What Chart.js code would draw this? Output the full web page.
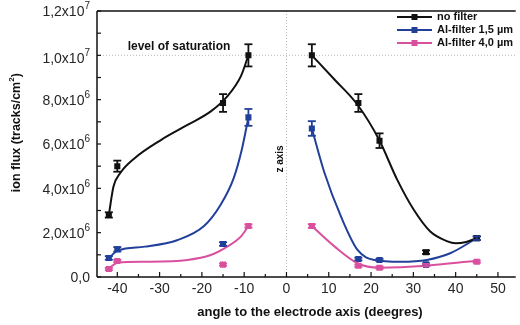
<!DOCTYPE html>
<html>
<head>
<meta charset="utf-8">
<script src="https://cdn.jsdelivr.net/npm/chart.js@4/dist/chart.umd.min.js"></script>
<style>
  html, body { margin: 0; padding: 0; background: #fff; }
</style>
</head>
<body>
<canvas id="chart" width="520" height="325"></canvas>
<script>
// measured points, ion flux in units of 10^6 tracks/cm2
const angles = [-42, -40, -15, -9, 6, 17, 22, 33, 45];
const noFilter = [2.8, 5.0, 7.85, 10.0, 10.0, 7.85, 6.15, 1.12, 1.75];
const noFilterErr = [0.12, 0.25, 0.4, 0.5, 0.5, 0.4, 0.33, 0.08, 0.08];
const al15 = [0.86, 1.25, 1.49, 7.2, 6.7, 0.81, 0.77, 0.57, 1.75];
const al15Err = [0.08, 0.1, 0.08, 0.38, 0.33, 0.06, 0.05, 0.05, 0.08];
const al40 = [0.36, 0.72, 0.56, 2.3, 2.3, 0.51, 0.42, 0.54, 0.69];
const al40Err = [0.05, 0.05, 0.05, 0.07, 0.08, 0.05, 0.05, 0.05, 0.05];

// fitted curves, left and right of the z axis
const fitNoFilterL = [[-42, 2.8], [-40.9, 4.08], [-39.3, 4.69], [-35.9, 5.36], [-29.6, 6.19], [-23.3, 6.87], [-17.9, 7.47], [-14, 8.15], [-10.8, 9.05], [-9, 10.0]];
const fitNoFilterR = [[6, 10.0], [11.4, 8.9], [16.8, 7.77], [21.9, 6.19], [26.2, 4.38], [30.1, 3.03], [34, 2.05], [37.9, 1.62], [40, 1.52], [42.5, 1.58], [45, 1.75]];
const fitAl15L = [[-42, 0.86], [-39.8, 1.2], [-33.5, 1.37], [-25.7, 1.67], [-19.5, 2.3], [-15.6, 3.25], [-12.5, 4.45], [-10.5, 5.8], [-9, 7.2]];
const fitAl15R = [[6, 6.7], [9, 4.69], [12.9, 2.72], [16.8, 1.22], [20.8, 0.77], [27, 0.69], [33.2, 0.77], [38.7, 1.07], [45, 1.75]];
const fitAl40L = [[-42, 0.39], [-39.8, 0.65], [-33.5, 0.69], [-23.4, 0.77], [-17.9, 0.99], [-14, 1.37], [-10.8, 1.82], [-9, 2.3]];
const fitAl40R = [[6, 2.3], [11.4, 1.37], [16.8, 0.62], [21.9, 0.42], [33.2, 0.51], [42.6, 0.69], [45, 0.72]];

// axis ticks
const xTicks = [-40, -35, -30, -25, -20, -15, -10, -5, 0, 5, 10, 15, 20, 25, 30, 35, 40, 45, 50];
const xLabels = [-40, -30, -20, -10, 0, 10, 20, 30, 40, 50];

const saturation = 10.0;
const seriesNames = ['no filter', 'Al-filter 1,5 \u00b5m', 'Al-filter 4,0 \u00b5m'];
const colors = ['#111111', '#22409a', '#d9509e'];

const toXY = arr => arr.map(([x, y]) => ({ x, y }));
const pts = vals => angles.map((a, i) => ({ x: a, y: vals[i] }));

function curve(data, color) {
  return {
    data: toXY(data), showLine: true, pointRadius: 0, borderColor: color,
    borderWidth: 2, cubicInterpolationMode: 'monotone', fill: false
  };
}
function marks(vals, color) {
  return {
    data: pts(vals), showLine: false, pointStyle: 'rect', pointRadius: 4.3,
    backgroundColor: color, borderColor: color, borderWidth: 0
  };
}

const errSets = [
  [noFilter, noFilterErr, colors[0]],
  [al15, al15Err, colors[1]],
  [al40, al40Err, colors[2]]
];

function yLabel(v) {
  if (v === 0) return ['0,0', ''];
  if (v >= 10) return [(v / 10).toFixed(1).replace('.', ',') + 'x10', '7'];
  return [v.toFixed(1).replace('.', ',') + 'x10', '6'];
}

function line(ctx, x1, y1, x2, y2) {
  ctx.beginPath(); ctx.moveTo(x1, y1); ctx.lineTo(x2, y2); ctx.stroke();
}

const decor = {
  id: 'decor',
  beforeDatasetsDraw(chart) {
    const { ctx, chartArea: a, scales: { x, y } } = chart;
    ctx.save();
    ctx.strokeStyle = '#b8b8b8';
    ctx.lineWidth = 1;
    ctx.setLineDash([1, 2]);
    const ys = y.getPixelForValue(saturation);
    line(ctx, a.left, ys, a.right, ys);
    const x0 = x.getPixelForValue(0);
    line(ctx, x0, a.top, x0, a.bottom);
    ctx.restore();
  },
  afterDatasetsDraw(chart) {
    const { ctx, chartArea: a, scales: { x, y } } = chart;
    ctx.save();

    // error bars
    ctx.lineWidth = 1.8;
    errSets.forEach(([vals, errs, c]) => {
      ctx.strokeStyle = c;
      angles.forEach((ang, i) => {
        const px = x.getPixelForValue(ang);
        const top = y.getPixelForValue(vals[i] + errs[i]);
        const bot = y.getPixelForValue(vals[i] - errs[i]);
        line(ctx, px, top, px, bot);
        line(ctx, px - 4, top, px + 4, top);
        line(ctx, px - 4, bot, px + 4, bot);
      });
    });

    // frame: left, bottom, top
    ctx.strokeStyle = '#111';
    ctx.lineWidth = 1.5;
    line(ctx, a.left, a.top, a.left, a.bottom);
    line(ctx, a.left, a.bottom, a.right, a.bottom);
    line(ctx, a.left, a.top, a.right, a.top);

    // inward ticks
    ctx.lineWidth = 1.2;
    y.ticks.forEach(t => {
      const py = y.getPixelForValue(t.value);
      line(ctx, a.left, py, a.left + 4, py);
    });
    xTicks.forEach(v => {
      const px = x.getPixelForValue(v);
      const len = xLabels.includes(v) ? 5 : 3;
      line(ctx, px, a.bottom, px, a.bottom - len);
    });

    // y tick labels with exponent
    ctx.fillStyle = '#262626';
    ctx.textBaseline = 'middle';
    y.ticks.forEach(t => {
      if (t.value % 2 !== 0) return;
      const [base, exp] = yLabel(t.value);
      const py = y.getPixelForValue(t.value) + (t.value === 10 ? 4 : 1.5);
      ctx.font = '10px "Liberation Sans", Arial, sans-serif';
      const ew = exp ? ctx.measureText(exp).width : 0;
      const right = 90;
      if (exp) {
        ctx.textAlign = 'right';
        ctx.fillText(exp, right, py - 6);
      }
      ctx.font = '14px "Liberation Sans", Arial, sans-serif';
      ctx.textAlign = 'right';
      ctx.fillText(base, right - ew, py);
    });

    // x tick labels
    ctx.font = '14px "Liberation Sans", Arial, sans-serif';
    ctx.textAlign = 'center';
    xLabels.forEach(v => {
      ctx.fillText(String(v), x.getPixelForValue(v), a.bottom + 12);
    });

    // axis titles
    ctx.fillStyle = '#111';
    ctx.font = 'bold 13px "Liberation Sans", Arial, sans-serif';
    ctx.fillText('angle to the electrode axis (deegres)', 310, 312);

    ctx.save();
    ctx.translate(17, 131);
    ctx.rotate(-Math.PI / 2);
    ctx.font = 'bold 12.5px "Liberation Sans", Arial, sans-serif';
    ctx.fillText('ion flux (tracks/cm', -6, 0);
    const w1 = ctx.measureText('ion flux (tracks/cm').width;
    ctx.font = 'bold 8px "Liberation Sans", Arial, sans-serif';
    ctx.textAlign = 'left';
    const w2 = ctx.measureText('2').width;
    ctx.fillText('2', -6 + w1 / 2, -5);
    ctx.font = 'bold 12.5px "Liberation Sans", Arial, sans-serif';
    ctx.fillText(')', -6 + w1 / 2 + w2, 0);
    ctx.restore();

    // annotations
    ctx.textAlign = 'center';
    ctx.font = 'bold 12px "Liberation Sans", Arial, sans-serif';
    ctx.fillText('level of saturation', 179, 47);

    ctx.save();
    ctx.translate(280, 159);
    ctx.rotate(-Math.PI / 2);
    ctx.font = 'bold 10px "Liberation Sans", Arial, sans-serif';
    ctx.fillText('z axis', 0, 0);
    ctx.restore();

    // legend
    ctx.font = 'bold 11px "Liberation Sans", Arial, sans-serif';
    ctx.textAlign = 'left';
    seriesNames.forEach((name, i) => {
      const ly = 17 + i * 13;
      ctx.strokeStyle = colors[i];
      ctx.fillStyle = colors[i];
      ctx.lineWidth = 2;
      line(ctx, 397, ly, 432, ly);
      ctx.fillRect(411.5, ly - 3, 6, 6);
      ctx.fillStyle = '#111';
      ctx.fillText(name, 437, ly);
    });

    ctx.restore();
  }
};

new Chart(document.getElementById('chart'), {
  type: 'scatter',
  data: {
    datasets: [
      curve(fitNoFilterL, colors[0]), curve(fitNoFilterR, colors[0]),
      curve(fitAl15L, colors[1]), curve(fitAl15R, colors[1]),
      curve(fitAl40L, colors[2]), curve(fitAl40R, colors[2]),
      marks(noFilter, colors[0]), marks(al15, colors[1]), marks(al40, colors[2])
    ]
  },
  options: {
    responsive: false,
    animation: false,
    devicePixelRatio: 1,
    layout: { padding: { top: 11, left: 0, right: 0, bottom: 0 } },
    plugins: { legend: { display: false }, tooltip: { enabled: false } },
    scales: {
      x: {
        type: 'linear', min: -44.8, max: 54.2,
        ticks: { display: false },
        grid: { display: false }, border: { display: false },
        afterFit: s => { s.height = 48; }
      },
      y: {
        type: 'linear', min: 0, max: 12,
        ticks: { display: false, stepSize: 1 },
        grid: { display: false }, border: { display: false },
        afterFit: s => { s.width = 97; }
      }
    }
  },
  plugins: [decor]
});
</script>
</body>
</html>
